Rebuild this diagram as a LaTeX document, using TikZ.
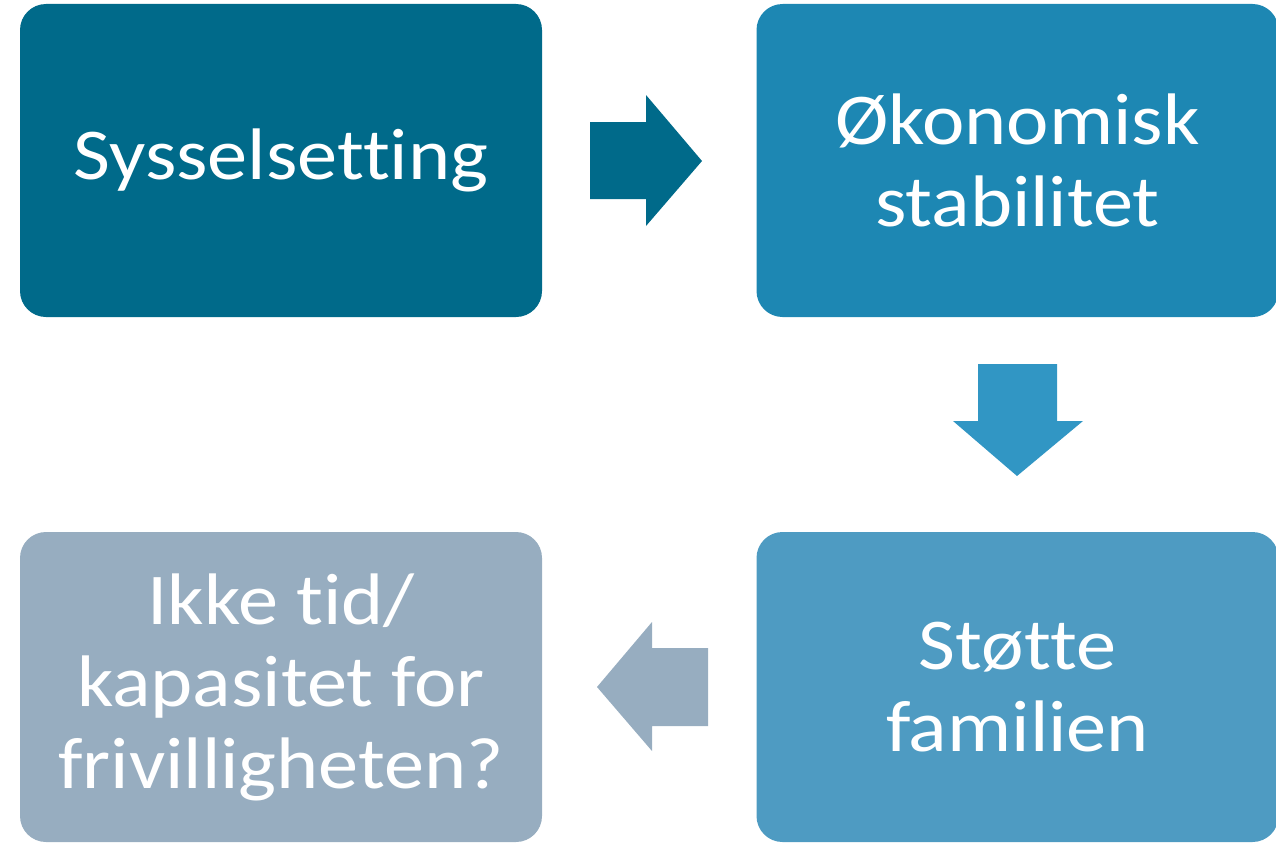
\documentclass[tikz,border=0pt]{standalone}
\usepackage{fontspec}
\setmainfont[Ligatures=NoCommon, FakeStretch=1.1]{Carlito}
\definecolor{cDark}{HTML}{006A8A}
\definecolor{cMid}{HTML}{1D87B3}
\definecolor{cDown}{HTML}{3196C4}
\definecolor{cLight}{HTML}{4E9BC2}
\definecolor{cGrey}{HTML}{97ADC0}
\tikzset{
  box/.style={rounded corners=26pt, draw=none, text=white, align=center,
    inner sep=0pt, font=\fontsize{73}{82}\selectfont},
  topbox/.style={box, minimum width=522pt, minimum height=313pt},
  botbox/.style={box, minimum width=522pt, minimum height=310pt},
}
\begin{document}
\begin{tikzpicture}[x=1pt,y=-1pt]
\useasboundingbox (0,0) rectangle (1276,843);
\node[topbox, fill=cDark] (a) at (281,160.5) {Sysselsetting};
\node[topbox, fill=cMid] (b) at (1017.5,160.5) {Økonomisk\\stabilitet};
\node[botbox, fill=cLight] (c) at (1017.5,687) {Støtte\\familien};
\node[botbox, fill=cGrey] (d) at (281,687) {Ikke tid/\\kapasitet for\\frivilligheten?};
% block arrows
\fill[cDark] (590,122) -- (646,122) -- (646,95) -- (702,161) -- (646,226) -- (646,199) -- (590,199) -- cycle;
\fill[cDown] (978,364) -- (1057,364) -- (1057,421) -- (1083,421) -- (1017,476) -- (953,421) -- (978,421) -- cycle;
\fill[cGrey] (708,648) -- (652,648) -- (652,622) -- (597,687) -- (652,751) -- (652,726) -- (708,726) -- cycle;
\end{tikzpicture}
\end{document}
